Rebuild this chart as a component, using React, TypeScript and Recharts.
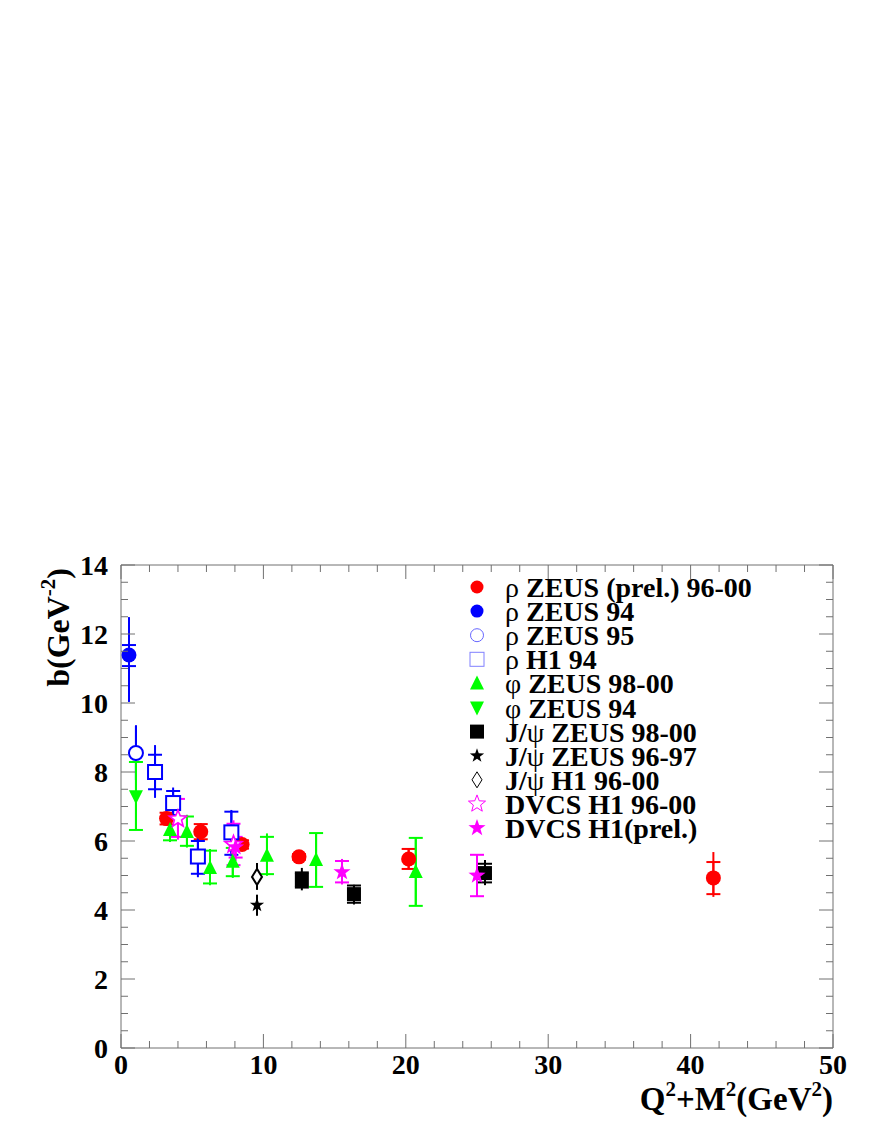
import React from 'react';
import { ScatterChart, Scatter, XAxis, YAxis, ErrorBar, Legend, Label } from 'recharts';

const FONT = '"Liberation Serif", "Times New Roman", Times, serif';
const AXIS_COLOR = '#707070';

// ---- axis ticks ----
const X_TICKS = [0, 2, 4, 6, 8, 10, 12, 14, 16, 18, 20, 22, 24, 26, 28, 30, 32, 34, 36, 38, 40, 42, 44, 46, 48, 50];
const X_LABELS = [0, 10, 20, 30, 40, 50];
const Y_TICKS = [0, 0.5, 1, 1.5, 2, 2.5, 3, 3.5, 4, 4.5, 5, 5.5, 6, 6.5, 7, 7.5, 8, 8.5, 9, 9.5, 10, 10.5, 11, 11.5, 12, 12.5, 13, 13.5, 14];
const Y_LABELS = [0, 2, 4, 6, 8, 10, 12, 14];

// ---- data: x, y, stat error [down, up], total error [down, up] ----
const rhoPrelX = [3.2, 5.6, 8.5, 12.5, 20.2, 41.6];
const rhoPrelY = [6.65, 6.27, 5.9, 5.54, 5.48, 4.93];
const rhoPrelStat = [[0.17, 0.17], [0.22, 0.22], [0.12, 0.12], [0.08, 0.08], [0.29, 0.29], [0.47, 0.46]];
const rhoPrelTot = [[0.2, 0.2], [0.25, 0.25], [0.15, 0.15], [0.1, 0.1], [0.3, 0.3], [0.55, 0.75]];

const rhoZ94X = [0.56];
const rhoZ94Y = [11.39];
const rhoZ94Stat = [[0.32, 0.29]];
const rhoZ94Tot = [[1.36, 1.1]];

const rhoZ95X = [1.05];
const rhoZ95Y = [8.55];
const rhoZ95Stat = [[0.8, 0.8]];
const rhoZ95Tot = [[0.8, 0.8]];

const rhoH1X = [2.39, 3.66, 5.4, 7.75];
const rhoH1Y = [8.0, 7.1, 5.55, 6.25];
const rhoH1Stat = [[0.5, 0.5], [0.35, 0.35], [0.5, 0.45], [0.65, 0.6]];
const rhoH1Tot = [[0.75, 0.78], [0.45, 0.45], [0.6, 0.65], [0.7, 0.65]];

const phiZ9800X = [3.44, 4.63, 6.25, 7.85, 10.25, 13.7, 20.7];
const phiZ9800Y = [6.32, 6.26, 5.22, 5.4, 5.57, 5.45, 5.1];
const phiZ9800Stat = [[0.3, 0.35], [0.4, 0.45], [0.45, 0.5], [0.42, 0.4], [0.53, 0.55], [0.78, 0.78], [0.98, 0.99]];
const phiZ9800Tot = [[0.35, 0.4], [0.45, 0.5], [0.5, 0.55], [0.47, 0.45], [0.58, 0.65], [0.78, 0.78], [0.98, 0.99]];

const phiZ94X = [1.05];
const phiZ94Y = [7.3];
const phiZ94Stat = [[0.98, 0.99]];
const phiZ94Tot = [[0.98, 0.99]];

const jpsiZ9800X = [12.7, 16.36, 25.56];
const jpsiZ9800Y = [4.87, 4.46, 5.07];
const jpsiZ9800Stat = [[0.22, 0.22], [0.25, 0.25], [0.27, 0.27]];
const jpsiZ9800Tot = [[0.3, 0.35], [0.3, 0.27], [0.35, 0.38]];

const jpsiZ9697X = [9.55];
const jpsiZ9697Y = [4.14];
const jpsiZ9697Stat = [[0.3, 0.3]];
const jpsiZ9697Tot = [[0.3, 0.3]];

const jpsiH1X = [9.55];
const jpsiH1Y = [4.96];
const jpsiH1Stat = [[0.37, 0.4]];
const jpsiH1Tot = [[0.37, 0.4]];

const dvcsX = [4.0, 7.9];
const dvcsY = [6.64, 5.9];
const dvcsStat = [[0.52, 0.58], [0.6, 0.6]];
const dvcsTot = [[0.6, 0.65], [0.65, 0.7]];

const dvcsPrelX = [8.05, 15.52, 25.0];
const dvcsPrelY = [5.82, 5.1, 5.0];
const dvcsPrelStat = [[0.3, 0.3], [0.3, 0.32], [0.6, 0.6]];
const dvcsPrelTot = [[0.4, 0.4], [0.36, 0.38], [0.6, 0.6]];

const SERIES = [
  { key: 'rhoPrel', name: 'ρ ZEUS (prel.) 96-00', xs: rhoPrelX, ys: rhoPrelY, stat: rhoPrelStat, tot: rhoPrelTot, marker: 'circleFilled', color: '#ff0000', cap: 7 },
  { key: 'rhoZ94', name: 'ρ ZEUS 94', xs: rhoZ94X, ys: rhoZ94Y, stat: rhoZ94Stat, tot: rhoZ94Tot, marker: 'circleFilled', color: '#0000ff', cap: 7 },
  { key: 'rhoZ95', name: 'ρ ZEUS 95', xs: rhoZ95X, ys: rhoZ95Y, stat: rhoZ95Stat, tot: rhoZ95Tot, marker: 'circleOpen', color: '#0000ff', cap: 0 },
  { key: 'rhoH1', name: 'ρ H1 94', xs: rhoH1X, ys: rhoH1Y, stat: rhoH1Stat, tot: rhoH1Tot, marker: 'squareOpen', color: '#0000ff', cap: 7 },
  { key: 'phiZ9800', name: 'φ ZEUS 98-00', xs: phiZ9800X, ys: phiZ9800Y, stat: phiZ9800Stat, tot: phiZ9800Tot, marker: 'triUp', color: '#00ff00', cap: 7 },
  { key: 'phiZ94', name: 'φ ZEUS 94', xs: phiZ94X, ys: phiZ94Y, stat: phiZ94Stat, tot: phiZ94Tot, marker: 'triDown', color: '#00ff00', cap: 7 },
  { key: 'jpsiZ9800', name: 'J/ψ ZEUS 98-00', xs: jpsiZ9800X, ys: jpsiZ9800Y, stat: jpsiZ9800Stat, tot: jpsiZ9800Tot, marker: 'squareFilled', color: '#000000', cap: 7 },
  { key: 'jpsiZ9697', name: 'J/ψ ZEUS 96-97', xs: jpsiZ9697X, ys: jpsiZ9697Y, stat: jpsiZ9697Stat, tot: jpsiZ9697Tot, marker: 'starFilledSmall', color: '#000000', cap: 0 },
  { key: 'jpsiH1', name: 'J/ψ H1 96-00', xs: jpsiH1X, ys: jpsiH1Y, stat: jpsiH1Stat, tot: jpsiH1Tot, marker: 'diamondOpen', color: '#000000', cap: 0 },
  { key: 'dvcs', name: 'DVCS H1 96-00', xs: dvcsX, ys: dvcsY, stat: dvcsStat, tot: dvcsTot, marker: 'starOpen', color: '#ff00ff', cap: 7 },
  { key: 'dvcsPrel', name: 'DVCS H1(prel.)', xs: dvcsPrelX, ys: dvcsPrelY, stat: dvcsPrelStat, tot: dvcsPrelTot, marker: 'starFilled', color: '#ff00ff', cap: 7 },
];

const starPoints = (cx: number, cy: number, R: number, r: number) => {
  const pts: string[] = [];
  for (let i = 0; i < 10; i++) {
    const a = -Math.PI / 2 + (i * Math.PI) / 5;
    const rad = i % 2 === 0 ? R : r;
    pts.push(`${cx + rad * Math.cos(a)},${cy + rad * Math.sin(a)}`);
  }
  return pts.join(' ');
};

function Marker({ kind, color, cx, cy, legend }: any) {
  const sw = legend ? 1 : 2;
  switch (kind) {
    case 'circleFilled':
      return <circle cx={cx} cy={cy} r={legend ? 6.5 : 7.5} fill={color} />;
    case 'circleOpen':
      return <circle cx={cx} cy={cy} r={legend ? 6.5 : 7} fill="#fff" stroke={legend ? '#6666ff' : color} strokeWidth={sw} />;
    case 'squareOpen':
      return <rect x={cx - 7} y={cy - 7} width={14} height={14} fill="#fff" stroke={legend ? '#8080ff' : color} strokeWidth={sw} />;
    case 'squareFilled':
      return <rect x={cx - 7} y={cy - 7} width={14} height={14} fill={color} />;
    case 'triUp':
      return <polygon points={`${cx - 7},${cy + 6} ${cx + 7},${cy + 6} ${cx},${cy - 8}`} fill={color} />;
    case 'triDown':
      return <polygon points={`${cx - 7},${cy - 6} ${cx + 7},${cy - 6} ${cx},${cy + 8}`} fill={color} />;
    case 'starFilledSmall':
      return <polygon points={starPoints(cx, cy, 7.5, 3)} fill={color} />;
    case 'starFilled':
      return <polygon points={starPoints(cx, cy, 9, 3.6)} fill={color} />;
    case 'starOpen':
      return <polygon points={starPoints(cx, cy, 9, 3.8)} fill="#fff" stroke={color} strokeWidth={legend ? 1 : 1.6} />;
    case 'diamondOpen':
      return <polygon points={`${cx},${cy - 8} ${cx + 5},${cy} ${cx},${cy + 8} ${cx - 5},${cy}`} fill="#fff" stroke={color} strokeWidth={legend ? 1 : 2} />;
    default:
      return null;
  }
}

const BottomTick = (props: any) => {
  const { x, y, payload } = props;
  const v = payload.value;
  const major = X_LABELS.includes(v);
  return (
    <g>
      <line x1={x} x2={x} y1={y} y2={y - (major ? 14 : 7)} stroke={AXIS_COLOR} strokeWidth={1} />
      {major && (
        <text x={x} y={y + 26} textAnchor="middle" fontFamily={FONT} fontWeight="bold" fontSize={28} fill="#000">
          {v}
        </text>
      )}
    </g>
  );
};

const TopTick = (props: any) => {
  const { x, y, payload } = props;
  const major = X_LABELS.includes(payload.value);
  return <line x1={x} x2={x} y1={y} y2={y + (major ? 14 : 7)} stroke={AXIS_COLOR} strokeWidth={1} />;
};

const LeftTick = (props: any) => {
  const { x, y, payload } = props;
  const v = payload.value;
  const major = Y_LABELS.includes(v);
  return (
    <g>
      <line x1={x} x2={x + (major ? 14 : 7)} y1={y} y2={y} stroke={AXIS_COLOR} strokeWidth={1} />
      {major && (
        <text x={x - 13} y={y + 10} textAnchor="end" fontFamily={FONT} fontWeight="bold" fontSize={28} fill="#000">
          {v}
        </text>
      )}
    </g>
  );
};

const RightTick = (props: any) => {
  const { x, y, payload } = props;
  const major = Y_LABELS.includes(payload.value);
  return <line x1={x} x2={x - (major ? 14 : 7)} y1={y} y2={y} stroke={AXIS_COLOR} strokeWidth={1} />;
};

const XTitle = (props: any) => {
  const vb = props.viewBox || { x: 121, y: 1048, width: 712, height: 40 };
  const xr = vb.x + vb.width;
  return (
    <text x={xr} y={1110} textAnchor="end" fontFamily={FONT} fontWeight="bold" fontSize={33} fill="#000">
      <tspan>Q</tspan>
      <tspan dy={-14} fontSize={21}>2</tspan>
      <tspan dy={14}>+M</tspan>
      <tspan dy={-14} fontSize={21}>2</tspan>
      <tspan dy={14}>(GeV</tspan>
      <tspan dy={-14} fontSize={21}>2</tspan>
      <tspan dy={14}>)</tspan>
    </text>
  );
};

const YTitle = () => {
  const x = 69;
  const y = 568;
  return (
    <text x={x} y={y} transform={`rotate(-90, ${x}, ${y})`} textAnchor="end" fontFamily={FONT} fontWeight="bold" fontSize={32} fill="#000">
      <tspan>b(GeV</tspan>
      <tspan dy={-14} fontSize={21}>-2</tspan>
      <tspan dy={14}>)</tspan>
    </text>
  );
};

function LegendLabel({ text, x, y }: any) {
  const parts = text.split(/([ρφψ])/).filter((p: string) => p !== '');
  return (
    <text x={x} y={y} fontFamily={FONT} fontSize={28} fontWeight="bold" fill="#000">
      {parts.map((p: string, i: number) =>
        /[ρφψ]/.test(p) ? (
          <tspan key={i} fontWeight="normal">{p}</tspan>
        ) : (
          <tspan key={i}>{p}</tspan>
        )
      )}
    </text>
  );
}

const LegendContent = () => (
  <svg width={340} height={280} style={{ overflow: 'visible', display: 'block' }}>
    {SERIES.map((s, i) => {
      const cy = 12 + i * 24.1;
      return (
        <g key={s.key}>
          <Marker kind={s.marker} color={s.color} cx={17} cy={cy} legend />
          <LegendLabel text={s.name} x={45} y={cy + 10} />
        </g>
      );
    })}
  </svg>
);

export default function App() {
  return (
    <div style={{ position: 'absolute', left: 0, top: 0, width: 872, height: 1128, background: '#fff' }}>
      <ScatterChart width={872} height={1128} margin={{ top: 564, right: 38, bottom: 40, left: 61 }}>
        <XAxis
          xAxisId={0}
          type="number"
          dataKey="x"
          domain={[0, 50]}
          allowDataOverflow
          ticks={X_TICKS}
          interval={0}
          tickSize={0}
          tickMargin={0}
          tickLine={false}
          tick={BottomTick}
          axisLine={{ stroke: AXIS_COLOR, strokeWidth: 1 }}
          height={40}
        >
          <Label content={XTitle} />
        </XAxis>
        <XAxis
          xAxisId="top"
          orientation="top"
          type="number"
          dataKey="x"
          domain={[0, 50]}
          allowDataOverflow
          ticks={X_TICKS}
          interval={0}
          tickSize={0}
          tickMargin={0}
          tickLine={false}
          tick={TopTick}
          axisLine={{ stroke: AXIS_COLOR, strokeWidth: 1 }}
          height={1}
        />
        <YAxis
          yAxisId={0}
          type="number"
          dataKey="y"
          domain={[0, 14]}
          allowDataOverflow
          ticks={Y_TICKS}
          interval={0}
          tickSize={0}
          tickMargin={0}
          tickLine={false}
          tick={LeftTick}
          axisLine={{ stroke: AXIS_COLOR, strokeWidth: 1 }}
          width={60}
        >
          <Label content={YTitle} />
        </YAxis>
        <YAxis
          yAxisId="right"
          orientation="right"
          type="number"
          dataKey="y"
          domain={[0, 14]}
          allowDataOverflow
          ticks={Y_TICKS}
          interval={0}
          tickSize={0}
          tickMargin={0}
          tickLine={false}
          tick={RightTick}
          axisLine={{ stroke: AXIS_COLOR, strokeWidth: 1 }}
          width={1}
        />
        <Legend
          layout="vertical"
          align="center"
          verticalAlign="middle"
          content={LegendContent}
          wrapperStyle={{ left: 460, top: 575, width: 340, height: 280 }}
        />
        {SERIES.map((s) => {
          const data = s.xs.map((x, i) => ({ x, y: s.ys[i], stat: s.stat[i], tot: s.tot[i] }));
          return (
            <Scatter
              key={s.key}
              name={s.name}
              data={data}
              fill={s.color}
              isAnimationActive={false}
              shape={(p: any) => <Marker kind={s.marker} color={s.color} cx={p.cx} cy={p.cy} />}
            >
              <ErrorBar dataKey="tot" direction="y" width={0} stroke={s.color} strokeWidth={2} />
              <ErrorBar dataKey="stat" direction="y" width={s.cap} stroke={s.color} strokeWidth={2} />
            </Scatter>
          );
        })}
      </ScatterChart>
    </div>
  );
}
